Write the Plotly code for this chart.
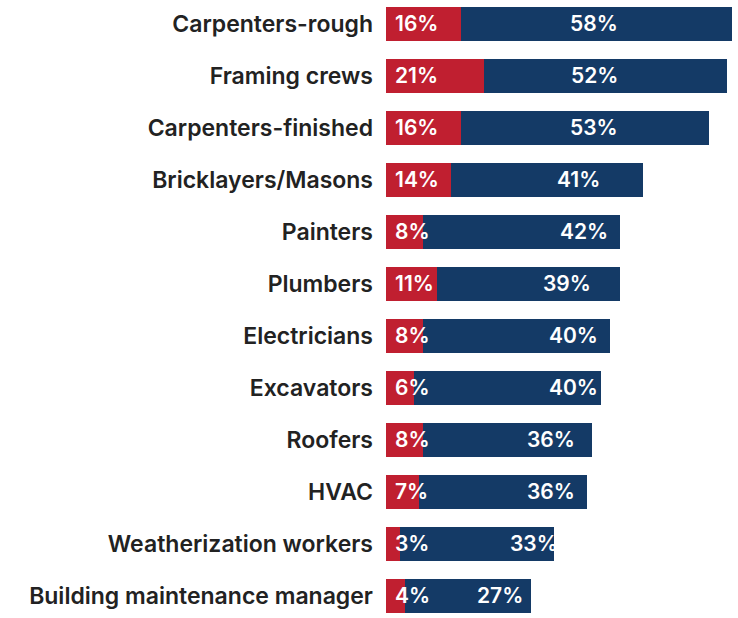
import plotly.graph_objects as go

categories = ["Carpenters-rough", "Framing crews", "Carpenters-finished", "Bricklayers/Masons",
              "Painters", "Plumbers", "Electricians", "Excavators", "Roofers", "HVAC",
              "Weatherization workers", "Building maintenance manager"]
red_vals = [16, 21, 16, 14, 8, 11, 8, 6, 8, 7, 3, 4]
navy_vals = [58, 52, 53, 41, 42, 39, 40, 40, 36, 36, 33, 27]

RED = "#C01F30"
NAVY = "#143A66"
FONT = "Inter"

fig = go.Figure()
fig.add_trace(go.Bar(y=categories, x=red_vals, orientation="h", marker_color=RED,
                     marker_line_width=0, width=0.654, hoverinfo="skip"))
fig.add_trace(go.Bar(y=categories, x=navy_vals, orientation="h", marker_color=NAVY,
                     marker_line_width=0, width=0.654, hoverinfo="skip"))

ann = []
for c, r, n in zip(categories, red_vals, navy_vals):
    ann.append(dict(x=1.4, y=c, text=f"{r}%", xanchor="left", showarrow=False, yshift=1,
                    font=dict(family=FONT, size=21, color="white", weight=600)))
    cx = min(1.2 * n - 8, 44.5)
    ann.append(dict(x=cx, y=c, text=f"{n}%", xanchor="center", showarrow=False, yshift=1,
                    font=dict(family=FONT, size=21, color="white", weight=600)))

fig.update_layout(
    barmode="stack",
    width=738, height=618,
    margin=dict(l=386, r=6, t=0, b=0),
    paper_bgcolor="white", plot_bgcolor="white",
    showlegend=False,
    annotations=ann,
    bargap=0,
    xaxis=dict(range=[0, 74], visible=False, fixedrange=True),
    yaxis=dict(range=[11 + 22 / 52, -24 / 52], type="category", showgrid=False,
               zeroline=False, ticks="", ticklabelstandoff=12,
               tickfont=dict(family=FONT, size=23, color="#222222", weight=600)),
)

fig.write_html("out.html")
